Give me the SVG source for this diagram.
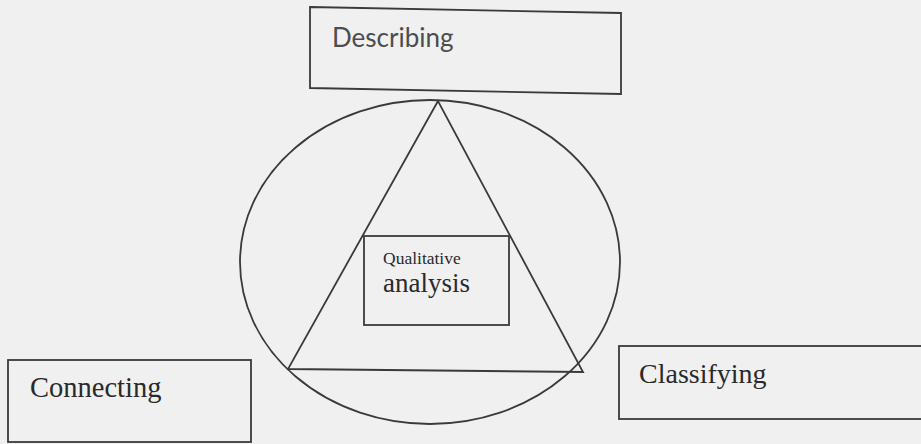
<svg xmlns="http://www.w3.org/2000/svg" width="921" height="444" viewBox="0 0 921 444">
  <style>
    .ln { fill: none; stroke: #3a3a3a; stroke-width: 1.8; }
    .serif { font-family: "Liberation Serif", "Times New Roman", serif; fill: #2a2a2a; }
    .sans { font-family: Lato, "Open Sans", "Liberation Sans", sans-serif; fill: #4d4d4d; }
  </style>
  <rect x="0" y="0" width="921" height="444" fill="#f0f0f0"/>

  <!-- outer circle and triangle around the core -->
  <g id="connectors">
    <ellipse class="ln" cx="430" cy="262" rx="190" ry="162"/>
    <polygon class="ln" points="438,101 288,369 583,372"/>
  </g>

  <g id="node-describing">
    <polygon class="ln" stroke="#555" points="310,7 621,13 621,94 310,88"/>
    <text class="sans" x="332" y="47" font-size="26">Describing</text>
  </g>

  <g id="node-core">
    <rect class="ln" x="364" y="236" width="145" height="89" fill="#f0f0f0"/>
    <text class="serif" x="383" y="264" font-size="17.5">Qualitative</text>
    <text class="serif" x="383" y="292" font-size="27">analysis</text>
  </g>

  <g id="node-connecting">
    <rect class="ln" x="8" y="360" width="243" height="82"/>
    <text class="serif" x="30" y="397" font-size="28.5">Connecting</text>
  </g>

  <g id="node-classifying">
    <rect class="ln" x="619" y="346" width="320" height="73"/>
    <text class="serif" x="639" y="383" font-size="28">Classifying</text>
  </g>
</svg>
